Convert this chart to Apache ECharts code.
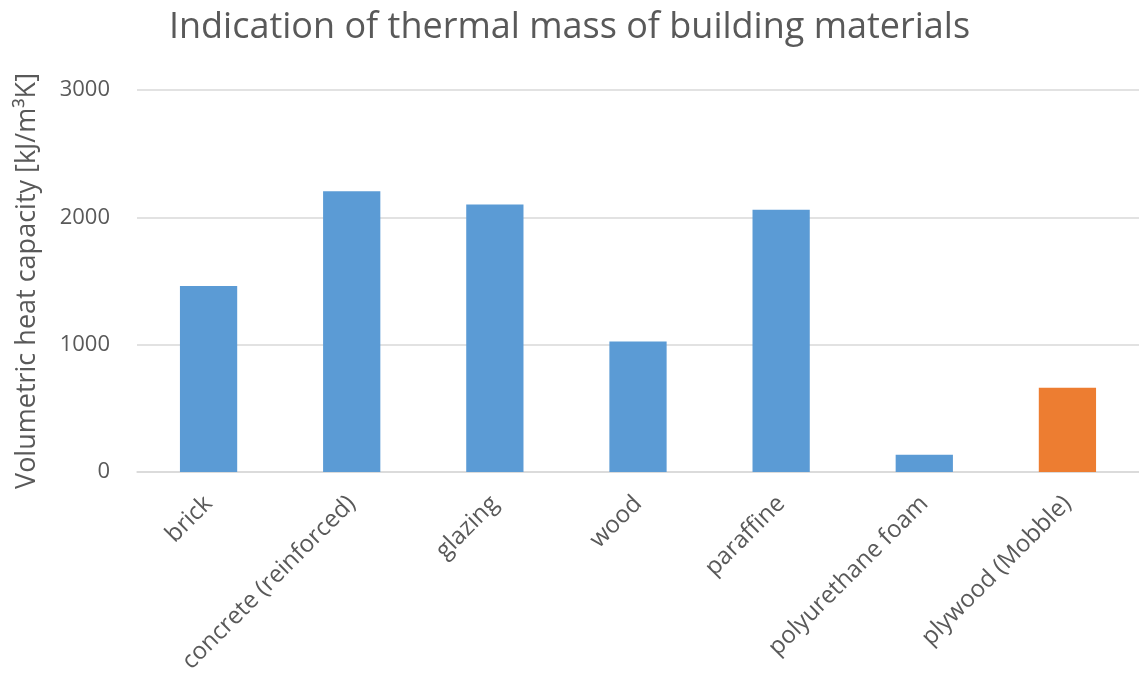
<!DOCTYPE html>
<html>
<head>
<meta charset="utf-8">
<style>
  html, body { margin: 0; padding: 0; background: #ffffff; }
  #chart { width: 1139px; height: 677px; }
</style>
<script src="https://cdn.jsdelivr.net/npm/echarts@6/dist/echarts.min.js"></script>
</head>
<body>
<div id="chart"></div>
<script>
// Materials and their volumetric heat capacity (kJ/m³K)
const materials = ['brick', 'concrete (reinforced)', 'glazing', 'wood', 'paraffine', 'polyurethane foam', 'plywood (Mobble)'];
const heatCapacity = [1460, 2205, 2100, 1025, 2060, 135, 662];
const highlighted = ['plywood (Mobble)'];
const yTicks = [0, 1000, 2000, 3000];

const BLUE = '#5B9BD5';
const ORANGE = '#ED7D31';
const TEXT = '#595959';
const FONT = '"Open Sans", Lato, sans-serif';

const chart = echarts.init(document.getElementById('chart'), null, { renderer: 'canvas' });

chart.setOption({
  animation: false,
  backgroundColor: '#ffffff',
  title: {
    text: 'Indication of thermal mass of building materials',
    left: 'center',
    top: 5,
    textStyle: { fontFamily: FONT, fontSize: 36, fontWeight: 'normal', color: TEXT }
  },
  // plot runs slightly past the right edge of the canvas
  grid: { left: 137, width: 1011, top: 90, bottom: 205, containLabel: false },
  xAxis: {
    type: 'category',
    data: materials,
    axisLine: { show: true, lineStyle: { color: '#d9d9d9', width: 1.5 } },
    axisTick: { show: false },
    axisLabel: {
      rotate: 45,
      interval: 0,
      margin: 28,
      fontFamily: FONT,
      fontSize: 24,
      color: TEXT
    }
  },
  yAxis: {
    type: 'value',
    min: yTicks[0],
    max: yTicks[yTicks.length - 1],
    interval: 1000,
    name: 'Volumetric heat capacity [kJ/m³K]',
    nameLocation: 'middle',
    nameGap: 96,
    nameTextStyle: { fontFamily: FONT, fontSize: 27, color: TEXT },
    axisLine: { show: false },
    axisTick: { show: false },
    axisLabel: {
      fontFamily: FONT, fontSize: 22, color: TEXT, margin: 27,
      formatter: v => String(v)
    },
    splitLine: { lineStyle: { color: '#d9d9d9', width: 1.5 } }
  },
  series: [{
    type: 'bar',
    barWidth: '40%',
    data: materials.map((m, i) => ({
      value: heatCapacity[i],
      itemStyle: { color: highlighted.includes(m) ? ORANGE : BLUE }
    }))
  }]
});
</script>
</body>
</html>
